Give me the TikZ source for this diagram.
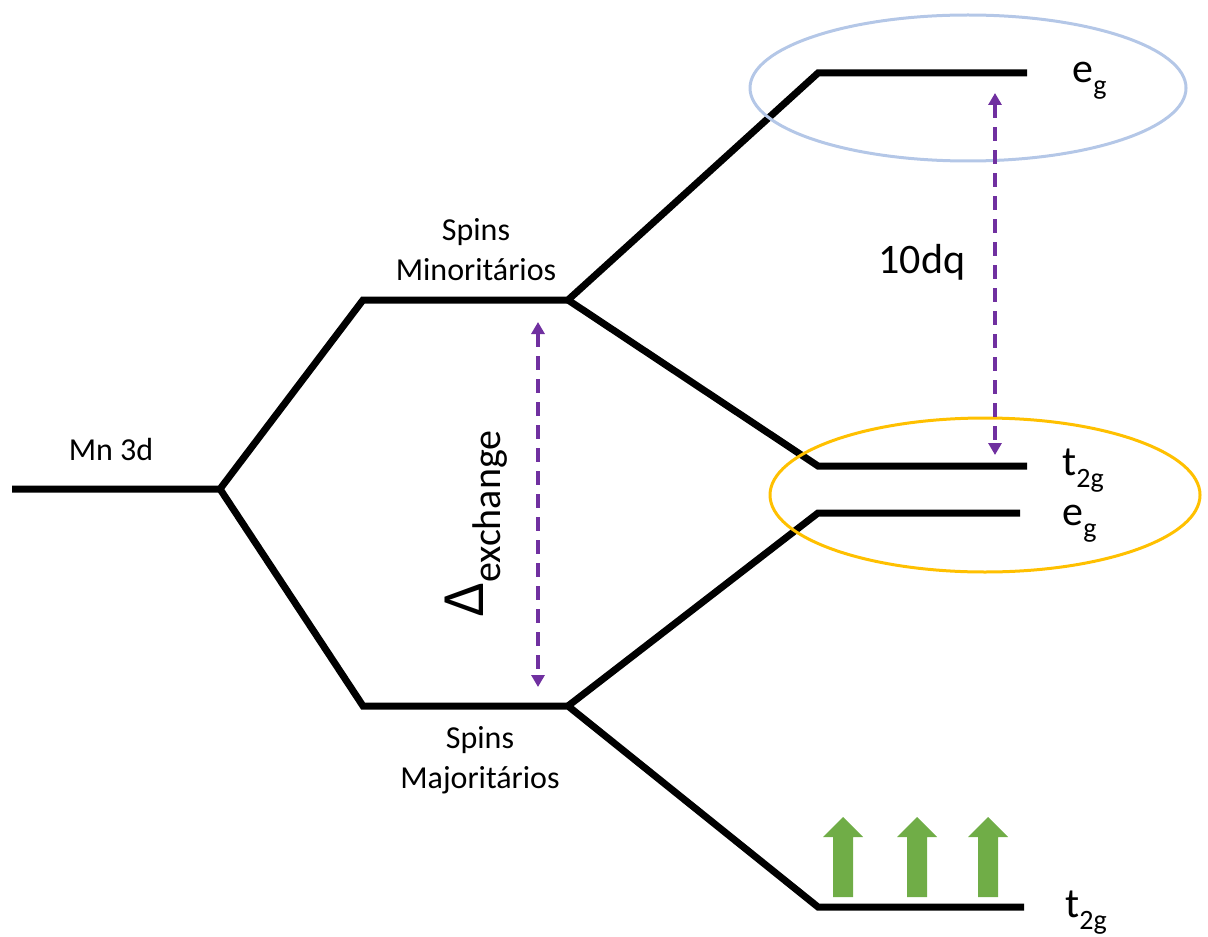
\documentclass[tikz,border=0pt]{standalone}
\usepackage{fontspec}
\setmainfont{Carlito}
\usetikzlibrary{arrows.meta}

\newcommand{\lbl}{\fontsize{16}{20}\selectfont}
\newcommand{\lvl}[2]{{\fontsize{21}{25}\selectfont #1\raisebox{-6pt}{\fontsize{14}{16}\selectfont #2}}}

\begin{document}
\begin{tikzpicture}[x=0.5pt,y=-0.5pt,
    level/.style={line width=3.5pt},
    gap/.style={line width=2.2pt, draw={rgb,255:red,112;green,48;blue,160},
        dash pattern=on 7pt off 4.5pt,
        {Triangle[length=6pt,width=6.5pt]}-{Triangle[length=6pt,width=6.5pt]}},
    spinlbl/.style={inner sep=0pt, align=center, font=\lbl},
    txt/.style={inner sep=0pt, anchor=base west}]
    \useasboundingbox (0,0) rectangle (1208,936);

    % niveis
    \coordinate (mn) at (12,489);
    \coordinate (split) at (220,489);
    \coordinate (minW) at (363,300);
    \coordinate (minE) at (568,300);
    \coordinate (majW) at (363,706);
    \coordinate (majE) at (568,706);
    \coordinate (egUpW) at (818,73);
    \coordinate (egUpE) at (1027,73);
    \coordinate (tgUpW) at (818,466);
    \coordinate (tgUpE) at (1027,466);
    \coordinate (egDnW) at (818,513);
    \coordinate (egDnE) at (1020,513);
    \coordinate (tgDnW) at (818,907);
    \coordinate (tgDnE) at (1024,907);

    \draw[level] (mn)--(split)--(minW)--(minE)--(egUpW)--(egUpE);
    \draw[level] (split)--(majW)--(majE)--(tgDnW)--(tgDnE);
    \draw[level] (minE)--(tgUpW)--(tgUpE);
    \draw[level] (majE)--(egDnW)--(egDnE);

    % elipses
    \draw[line width=1.5pt, draw={rgb,255:red,180;green,199;blue,231}] (968,88) ellipse [x radius=218, y radius=73];
    \draw[line width=1.5pt, draw={rgb,255:red,255;green,192;blue,0}] (985,495) ellipse [x radius=215, y radius=77];

    % setas
    \coordinate (exTop) at (538,322);
    \coordinate (exBot) at (538,687);
    \coordinate (dqTop) at (995,93);
    \coordinate (dqBot) at (995,455);
    \draw[gap] (exTop)--(exBot);
    \draw[gap] (dqTop)--(dqBot);

    \foreach \x in {843,917,988}
        \fill[fill={rgb,255:red,112;green,173;blue,71}] (\x-10,897)--(\x-10,837)--(\x-20,837)--(\x,817)--(\x+20,837)--(\x+10,837)--(\x+10,897)--cycle;

    % textos
    \node[spinlbl] (mnlabel) at (111,449) {Mn 3d};
    \node[spinlbl] (minlabel) at (476,250) {Spins\\Minoritários};
    \node[spinlbl] (majlabel) at (480,760) {Spins\\Majoritários};
    \node[txt] (dq) at (878,273) {\fontsize{21}{25}\selectfont 10dq};
    \node[txt, rotate=90] (ex) at (483,617) {\fontsize{30}{36}\selectfont Δ\raisebox{-8.5pt}{\fontsize{20}{24}\selectfont exchange}};
    \node[txt] (egUp) at (1072,83) {\lvl{e}{g}};
    \node[txt] (tgUp) at (1062,475) {\lvl{t}{2g}};
    \node[txt] (egDn) at (1062,525) {\lvl{e}{g}};
    \node[txt] (tgDn) at (1065,917) {\lvl{t}{2g}};
\end{tikzpicture}
\end{document}
